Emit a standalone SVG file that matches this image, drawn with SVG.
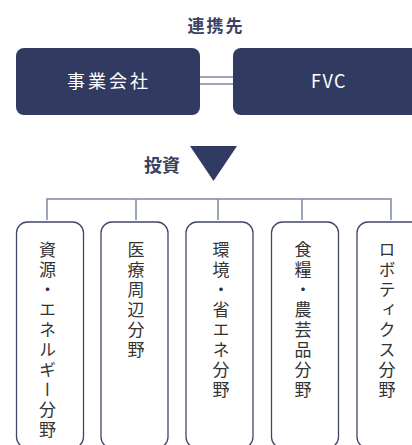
<svg xmlns="http://www.w3.org/2000/svg" width="412" height="445" viewBox="0 0 412 445">
<style>
.hd{font-family:"Noto Sans CJK JP","Noto Sans",sans-serif;font-weight:700;fill:#3a4264;}
.nb{fill:#313b62;}
.nt{font-family:"Noto Sans CJK JP","Noto Sans",sans-serif;fill:#ffffff;font-size:18px;text-anchor:middle;}
.cat{fill:#ffffff;stroke:#3f4768;stroke-width:1.3;}
.vt{font-family:"Noto Sans CJK JP",sans-serif;font-size:17px;fill:#333333;writing-mode:vertical-rl;letter-spacing:3px;}
.ln{stroke:#7f86a2;stroke-width:1.5;fill:none;}
</style>
<text class="hd" x="216" y="32" font-size="17" text-anchor="middle" letter-spacing="2">連携先</text>
<g id="connectors">
<line class="ln" x1="200" y1="77" x2="233" y2="77"/>
<line class="ln" x1="200" y1="84" x2="233" y2="84"/>
<polyline class="ln" points="47,220 47,199 391,199 391,220"/>
<line class="ln" x1="136" y1="199" x2="136" y2="220"/>
<line class="ln" x1="218" y1="199" x2="218" y2="220"/>
<line class="ln" x1="302" y1="199" x2="302" y2="220"/>
</g>
<g id="node-jigyo">
<rect class="nb" x="16" y="48" width="184" height="67" rx="8"/>
<text class="nt" x="109" y="88" letter-spacing="3">事業会社</text>
</g>
<g id="node-fvc">
<rect class="nb" x="233" y="48" width="186" height="67" rx="8"/>
<text class="nt" x="329" y="88" font-family="Noto Sans" letter-spacing="1.5" font-size="19">FVC</text>
</g>
<g id="invest">
<text class="hd" x="162" y="172" font-size="18" text-anchor="middle">投資</text>
<polygon class="nb" points="190,146 237,146 213.5,181"/>
</g>
<g id="cat1">
<rect class="cat" x="16.5" y="222" width="67" height="226" rx="11"/>
<text class="vt" x="47.5" y="241">資源・エネルギー分野</text>
</g>
<g id="cat2">
<rect class="cat" x="101" y="222" width="67" height="226" rx="11"/>
<text class="vt" x="136" y="241">医療周辺分野</text>
</g>
<g id="cat3">
<rect class="cat" x="186" y="222" width="67" height="226" rx="11"/>
<text class="vt" x="221" y="241">環境・省エネ分野</text>
</g>
<g id="cat4">
<rect class="cat" x="271.5" y="222" width="67" height="226" rx="11"/>
<text class="vt" x="303" y="241">食糧・農芸品分野</text>
</g>
<g id="cat5">
<rect class="cat" x="357" y="222" width="67" height="226" rx="11"/>
<text class="vt" x="387" y="241">ロボティクス分野</text>
</g>
</svg>
